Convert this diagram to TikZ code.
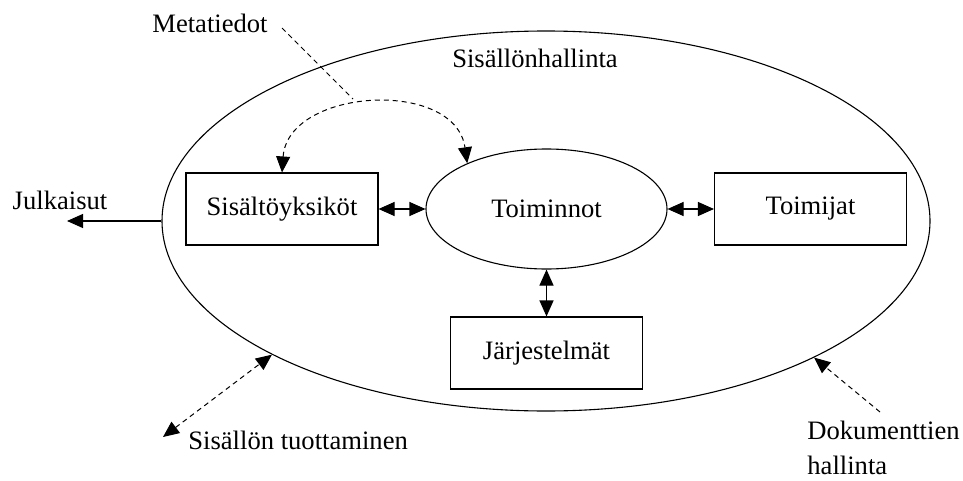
\documentclass[tikz,border=0pt]{standalone}
\usepackage{fontspec}
\setmainfont{Liberation Serif}
\usetikzlibrary{arrows.meta,shapes.geometric}

\tikzset{
  every node/.style={font=\fontsize{13.3pt}{16pt}\selectfont},
  box/.style={draw, line width=0.55pt, minimum width=96pt, minimum height=36pt, inner sep=0pt},
  oval/.style={draw, ellipse, line width=0.55pt, inner sep=0pt},
  label/.style={inner sep=0pt},
  head/.tip={Triangle[length=8pt,width=7pt]},
  link/.style={line width=0.55pt, head-head},
  onelink/.style={line width=0.55pt, -head},
  dlink/.style={line width=0.5pt, dash pattern=on 2.5pt off 2pt},
  tip/.style={-head},
  tips/.style={head-head}
}

\begin{document}
\begin{tikzpicture}[x=0.5pt, y=-0.5pt]
  \useasboundingbox (0,0) rectangle (963,481);

  % outer scope: content management
  \node[oval, minimum width=384pt, minimum height=190pt] (cm) at (546,221) {};
  \node[label] (cmtitle) at (535,58) {Sisällönhallinta};

  % inner elements
  \node[box] (units) at (282,209) {Sisältöyksiköt};
  \node[oval, minimum width=120.5pt, minimum height=60pt] (func) at (546.5,209) {Toiminnot};
  \node[box] (actors) at (810.5,209) {Toimijat};
  \node[box] (systems) at (546.5,353) {Järjestelmät};

  \draw[link] (units.east) -- (func.west);
  \draw[link] (func.east) -- (actors.west);
  \draw[link] (func.south) -- (systems.north);

  % publications leaving the scope
  \node[label] (pub) at (60,200) {Julkaisut};
  \coordinate (pubend) at (67,221);
  \draw[onelink] (cm.west) -- (pubend);

  % metadata
  \node[label] (meta) at (210,23) {Metatiedot};
  \coordinate (metastart) at (282,28);
  \coordinate (metaend) at (353,99);
  \draw[dlink] (metastart) -- (metaend);
  \draw[dlink, tips] (units.north) .. controls (288,88) and (455,78) .. (func.150);

  % content production
  \node[label, anchor=west] (prod) at (188,440) {Sisällön tuottaminen};
  \coordinate (prodend) at (163,437);
  \draw[dlink, tips] (prodend) -- (cm.206);

  % document management
  \node[label, anchor=north west, align=left] (docs) at (807,421) {Dokumenttien\\[1.5pt]hallinta};
  \coordinate (docsstart) at (880,412);
  \draw[dlink, tip] (docsstart) -- (cm.333);
\end{tikzpicture}
\end{document}
